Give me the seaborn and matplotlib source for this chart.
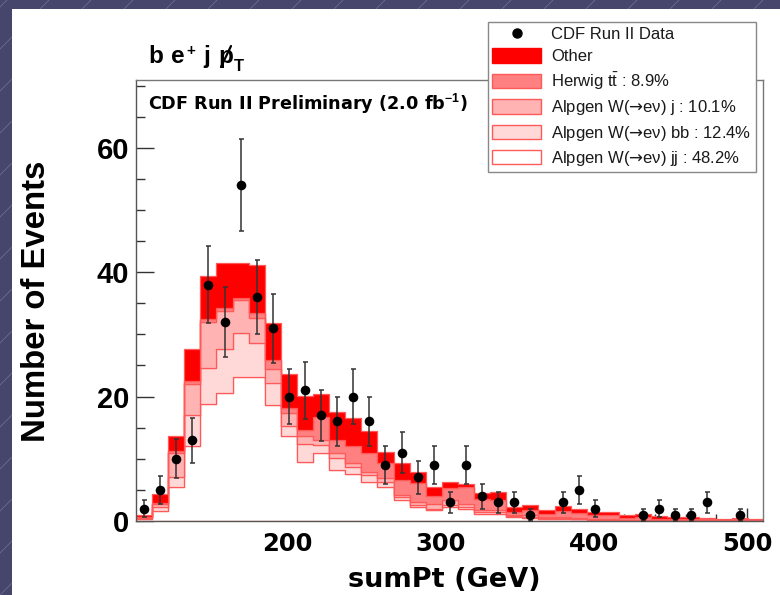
import numpy as np
import pandas as pd
import matplotlib
matplotlib.use("Agg")
import matplotlib.pyplot as plt
from matplotlib.patches import Rectangle
from matplotlib.lines import Line2D
from matplotlib.ticker import MultipleLocator
import seaborn as sns

# ---------------- data ----------------
bin_start = 101.5
bin_width = 10.5

data_counts = [2, 5, 10, 13, 38, 32, 54, 36, 31, 20, 21, 17, 16, 20, 16, 9, 11, 7, 9, 3,
               9, 4, 3, 3, 1, 0, 3, 5, 2, 0, 0, 1, 2, 1, 1, 3, 0, 1, 0]

w_jj = [0.3, 1.6, 5.4, 12.1, 18.8, 20.6, 23.2, 23.2, 18.6, 13.6, 9.5, 10.9, 8.2, 7.5, 6.3, 5.4,
        3.4, 2.3, 1.7, 2.2, 2.0, 1.2, 1.2, 0.6, 0.5, 0.4, 0.4, 0.3, 0.2, 0.2, 0.1, 0.1, 0.1,
        0.05, 0.05, 0.05, 0.05, 0.05, 0.03]
w_bb = [0.2, 0.7, 1.6, 4.9, 5.8, 7.1, 7.1, 5.4, 3.6, 1.7, 2.8, 1.3, 1.9, 1.2, 1.1, 0.8,
        0.4, 0.2, 0.3, 0.4, 0.3, 0.3, 0.3, 0.2, 0.2, 0.1, 0.1, 0.1, 0.1, 0.1, 0.05, 0.05, 0.05,
        0.05, 0.05, 0.05, 0.03, 0.05, 0.02]
w_j = [0.1, 0.5, 3.9, 5.1, 7.4, 6.1, 5.2, 4.0, 2.3, 2.0, 1.4, 0.9, 0.8, 0.7, 0.5, 0.7,
       0.4, 0.5, 0.8, 0.8, 0.5, 0.3, 0.3, 0.2, 0.2, 0.1, 0.1, 0.1, 0.1, 0.1, 0.05, 0.05, 0.05,
       0.05, 0.05, 0.05, 0.02, 0.05, 0.03]
ttbar = [0.05, 0.1, 0.3, 0.4, 0.4, 0.4, 0.4, 0.9, 1.4, 0.8, 0.9, 3.7, 2.1, 2.7, 3.1, 2.4,
         2.4, 3.1, 1.2, 1.9, 2.7, 1.7, 1.6, 0.5, 0.9, 0.6, 1.0, 0.8, 0.5, 0.5, 0.3, 0.4, 0.2,
         0.15, 0.15, 0.1, 0.1, 0.1, 0.07]
other = [0.35, 1.4, 2.4, 5.1, 7.0, 7.2, 5.6, 7.7, 6.0, 5.5, 5.5, 3.6, 4.6, 4.5, 3.4, 1.8,
         2.7, 1.8, 1.4, 0.9, 0.5, 1.0, 1.2, 0.8, 0.7, 0.6, 0.8, 0.7, 0.6, 0.6, 0.4, 0.5, 0.4,
         0.3, 0.3, 0.25, 0.2, 0.25, 0.15]

comp_names = ["Other", "Herwig tt", "W j", "W bb", "W jj"]
legend_labels = ["CDF Run II Data", "Other", "Herwig $\\mathrm{t\\bar{t}}$ : 8.9%",
                 "Alpgen W($\\mathsf{→}$eν) j : 10.1%",
                 "Alpgen W($\\mathsf{→}$eν) bb : 12.4%",
                 "Alpgen W($\\mathsf{→}$eν) jj : 48.2%"]

# ---------------- style ----------------
sns.set_style("ticks")
plt.rcParams['font.family'] = ['Liberation Sans', 'DejaVu Sans']
plt.rcParams['text.color'] = 'black'
plt.rcParams['xtick.labelcolor'] = 'black'
plt.rcParams['ytick.labelcolor'] = 'black'
plt.rcParams['mathtext.fontset'] = 'custom'
plt.rcParams['mathtext.rm'] = 'Liberation Sans'
plt.rcParams['mathtext.bf'] = 'Liberation Sans:bold'
plt.rcParams['mathtext.it'] = 'Liberation Sans:italic'
plt.rcParams['mathtext.sf'] = 'DejaVu Sans'

fill_colors = {"Other": "#FF0000", "Herwig tt": "#FF8080", "W j": "#FFB3B3",
               "W bb": "#FFD8D8", "W jj": "#FFFFFF"}
edge_red = "#FF5A5A"

W, H = 780, 595
def fx(px):
    return px / W
def fy(py):
    return 1 - py / H

fig = plt.figure(figsize=(W / 100, H / 100), dpi=100)
fig.patch.set_facecolor('#46466C')
for k in range(-20, 40):
    x0 = k * 42
    fig.add_artist(Line2D([fx(x0), fx(x0 + 700)], [0, 700 / H], transform=fig.transFigure,
                          color='#6C6C94', lw=0.6, zorder=-20))
fig.add_artist(Rectangle((fx(12), 0), 1, 1 - 9 / H, transform=fig.transFigure,
                         facecolor='white', edgecolor='none', zorder=-10))

ax = fig.add_axes([fx(136), fy(521), (763 - 136) / W, (521 - 80) / H])
ax.set_facecolor('white')

nb = len(data_counts)
edges = bin_start + bin_width * np.arange(nb + 1)
centers = 0.5 * (edges[:-1] + edges[1:])

df = pd.DataFrame({
    "sumPt": np.tile(centers, len(comp_names)),
    "w": np.concatenate([other, ttbar, w_j, w_bb, w_jj]),
    "comp": np.repeat(comp_names, nb),
})
sns.histplot(data=df, x="sumPt", weights="w", hue="comp", hue_order=comp_names,
             palette=fill_colors, bins=list(edges), multiple="stack", element="step",
             fill=True, alpha=1, edgecolor=edge_red, linewidth=0.9, legend=False, ax=ax)

counts = np.array(data_counts, dtype=float)
mask = counts > 0
ax.errorbar(centers[mask], counts[mask], yerr=np.sqrt(counts[mask]), fmt='none',
            ecolor='#333333', elinewidth=1.1, capsize=1.8, capthick=1.1, zorder=4)
sns.scatterplot(x=centers[mask], y=counts[mask], color='black', s=48, edgecolor='black',
                linewidth=0, zorder=5, ax=ax)

ax.set_xlim(101.5, 510.5)
ax.set_ylim(0, 70.9)
ax.set_xlabel('')
ax.set_ylabel('')
ax.xaxis.set_major_locator(MultipleLocator(100))
ax.xaxis.set_minor_locator(MultipleLocator(20))
ax.yaxis.set_major_locator(MultipleLocator(20))
ax.yaxis.set_minor_locator(MultipleLocator(5))
ax.tick_params(axis='x', which='major', direction='in', length=9.4, width=1, color='#333333',
               pad=8, labelsize=17.5)
ax.tick_params(axis='x', which='minor', direction='in', length=4.7, width=1, color='#333333')
ax.tick_params(axis='y', which='major', direction='in', length=13, width=1, color='#333333',
               pad=5, labelsize=21)
ax.tick_params(axis='y', which='minor', direction='in', length=6.5, width=1, color='#333333')
for lbl in ax.get_xticklabels():
    lbl.set_fontweight('bold')
    lbl.set_fontfamily(['DejaVu Sans'])
for lbl in ax.get_yticklabels():
    lbl.set_fontweight('bold')
for s in ['left', 'bottom']:
    ax.spines[s].set_color('#555555')
    ax.spines[s].set_linewidth(1.0)
for s in ['top', 'right']:
    ax.spines[s].set_visible(True)
    ax.spines[s].set_color('#777777')
    ax.spines[s].set_linewidth(1.0)

# legend
handles = [Line2D([], [], marker='o', color='black', linestyle='none', markersize=6.5)]
for name in comp_names:
    ec = "#FF0000" if name == "Other" else edge_red
    handles.append(Rectangle((0, 0), 1, 1, facecolor=fill_colors[name], edgecolor=ec, lw=1))
leg = fig.legend(handles, legend_labels, loc='upper left', bbox_to_anchor=(fx(488), fy(22)),
                 bbox_transform=fig.transFigure, frameon=True, fancybox=False,
                 edgecolor='#888888', framealpha=1, fontsize=12, handlelength=2.95,
                 handleheight=0.96, handletextpad=0.6, labelspacing=0.38, borderpad=0.25,
                 borderaxespad=0)
leg.get_frame().set_linewidth(1.0)
for t in leg.get_texts():
    t.set_color('#1a1a1a')

# texts
fig.text(fx(148), fy(110), r"CDF Run II Preliminary (2.0 fb$^{\mathbf{-1}}$)", fontsize=12.7,
         fontweight='bold', ha='left', va='baseline', family=['DejaVu Sans'])
fig.text(fx(148), fy(63), "b", fontsize=17.5, fontweight='bold', ha='left', va='baseline')
fig.text(fx(171), fy(63), "e", fontsize=17.5, fontweight='bold', ha='left', va='baseline')
fig.text(fx(186), fy(55), "+", fontsize=11, fontweight='bold', ha='left', va='baseline')
fig.text(fx(203), fy(63), "j", fontsize=17.5, fontweight='bold', ha='left', va='baseline')
fig.text(fx(218), fy(63), "p", fontsize=17.5, fontweight='bold', ha='left', va='baseline')
fig.add_artist(Line2D([fx(221), fx(231)], [fy(67), fy(46)], transform=fig.transFigure,
                      color='black', lw=1.6))
fig.text(fx(234), fy(71), "T", fontsize=12, fontweight='bold', ha='left', va='baseline')

fig.text(fx(444), fy(587), "sumPt (GeV)", fontsize=19.5, fontweight='bold', ha='center',
         va='baseline', family=['DejaVu Sans'])
fig.text(fx(37), fy(301), "Number of Events", fontsize=23.7, fontweight='bold', rotation=90,
         ha='center', va='center')

fig.savefig("out.png", dpi=100, facecolor=fig.get_facecolor())
